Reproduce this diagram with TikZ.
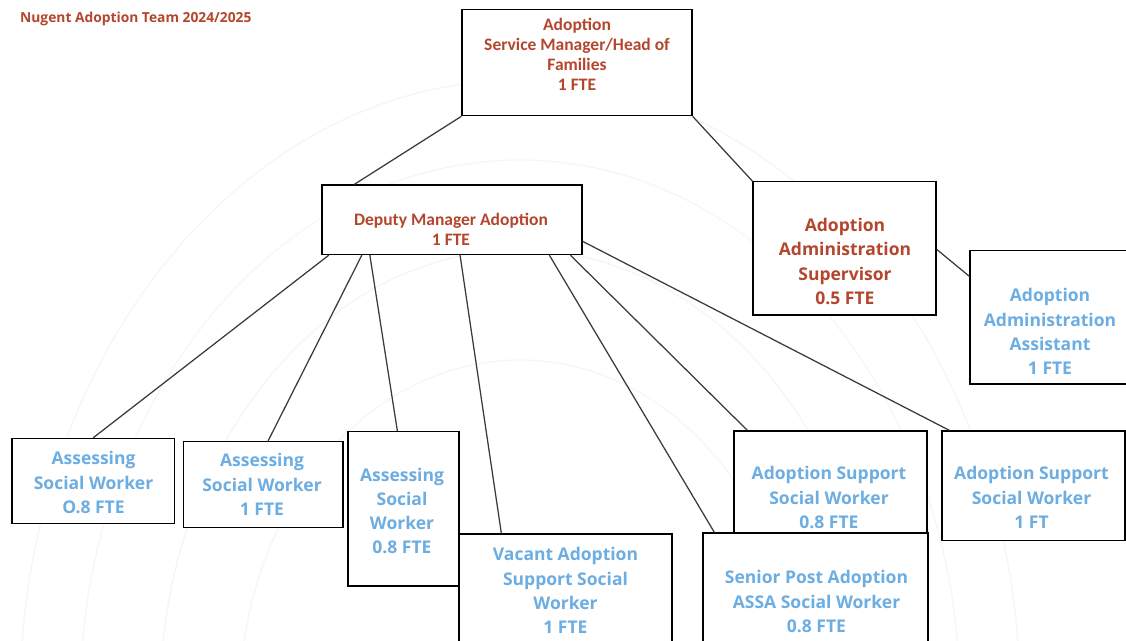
\documentclass[tikz,border=0pt]{standalone}
\usepackage{fontspec}
\setmainfont{Open Sans}
\newfontfamily\carl{Carlito}
\usetikzlibrary{calc}
\definecolor{redtxt}{HTML}{B4462D}
\definecolor{bluetxt}{HTML}{6CADE2}
\definecolor{linegray}{HTML}{3A3A3A}
\definecolor{ringa}{HTML}{F4F4FB}
\definecolor{ringb}{HTML}{FBF3F5}
\begin{document}
\begin{tikzpicture}[x=1pt,y=-1pt,
  box/.style={draw=black,line width=1.3pt,fill=white,inner sep=0pt,rectangle},
  conn/.style={draw=linegray,line width=1.25pt},
  redt/.style={text=redtxt,align=center,inner sep=0pt,font=\carl\bfseries\fontsize{17.5}{20}\selectfont},
  redo/.style={text=redtxt,align=center,inner sep=0pt,font=\bfseries\fontsize{17.5}{24.2}\selectfont},
  bluet/.style={text=bluetxt,align=center,inner sep=0pt,font=\bfseries\fontsize{17.5}{24.2}\selectfont},
  ring/.style={line width=1.2pt}]
\useasboundingbox (0,0) rectangle (1126,640);
\fill[white] (0,0) rectangle (1126,640);
\clip (0,0) rectangle (1126,640);
% faint watermark rings
\draw[ring,ringa] (520,700) ellipse [x radius=500, y radius=620];
\draw[ring,ringb] (520,700) ellipse [x radius=440, y radius=540];
\draw[ring,ringa] (520,700) ellipse [x radius=360, y radius=450];
\draw[ring,ringb] (520,700) ellipse [x radius=280, y radius=340];
% title
\node[anchor=base west,inner sep=0pt,text=redtxt,font=\bfseries\fontsize{13.8}{16}\selectfont] (title) at (20,22.5) {Nugent Adoption Team 2024/2025};
% upper boxes
\path
 node[box,minimum width=230pt,minimum height=106.4pt] (top) at (577,62.5) {}
 node[box,minimum width=260pt,minimum height=69.5pt] (dep) at (452,219.75) {}
 node[box,minimum width=183pt,minimum height=133.3pt] (sup) at (844.5,248.35) {}
 node[box,minimum width=160pt,minimum height=133.3pt] (asst) at (1050,317.35) {};
% connectors of the upper part
\draw[conn] (top.south west) -- ($(dep.north west)+(33,0)$);
\draw[conn] (top.south east) -- (sup.north west);
\draw[conn] ($(sup.north east)+(0,68.3)$) -- ($(asst.north west)+(0,26.3)$);
% lower boxes
\node[box,minimum width=162.5pt,minimum height=85.2pt] (asw1) at (93.25,481.1) {};
\node[box,minimum width=159.5pt,minimum height=85.9pt] (asw2) at (263.25,484.45) {};
\node[box,minimum width=111pt,minimum height=154.5pt] (asw3) at (403.5,508.75) {};
\node[box,minimum width=213pt,minimum height=126pt] (vac) at (565.5,597) {};
\node[box,minimum width=193pt,minimum height=104.7pt] (assw) at (830.5,483.35) {};
\node[box,minimum width=183pt,minimum height=109.7pt] (as1) at (1033.5,485.85) {};
\node[box,minimum width=225pt,minimum height=127pt] (sen) at (815.5,596.5) {};
\draw[conn] ($(dep.south west)+(7.5,0)$) -- ($(asw1.north west)+(81.75,0)$);
\draw[conn] ($(dep.south west)+(40.5,0)$) -- ($(asw2.north west)+(85.25,0)$);
\draw[conn] ($(dep.south west)+(48.5,0)$) -- ($(asw3.north west)+(50,0)$);
\draw[conn] ($(dep.south west)+(138.7,0)$) -- ($(vac.north west)+(43,0)$);
\draw[conn] ($(dep.south west)+(228,0)$) -- ($(sen.north west)+(12,0)$);
\draw[conn] ($(dep.south west)+(249,0)$) -- ($(assw.north west)+(14,0)$);
\draw[conn] ($(dep.north east)+(0,57)$) -- ($(as1.north west)+(8,0)$);
% texts
\node[redt] (ttop) at (577,54.5) {Adoption\\Service Manager/Head of\\Families\\1 FTE};
\node[redt] (tdep) at (451,229) {Deputy Manager Adoption\\1 FTE};
\node[redo] (tsup) at (845,261.5) {Adoption\\Administration\\Supervisor\\0.5 FTE};
\node[bluet] (tasst) at (1050,331.5) {Adoption\\Administration\\Assistant\\1 FTE};
\node[bluet] (tasw1) at (93.5,482.5) {Assessing\\Social Worker\\O.8 FTE};
\node[bluet] (tasw2) at (262,484.5) {Assessing\\Social Worker\\1 FTE};
\node[bluet] (tasw3) at (402,511) {Assessing\\Social\\Worker\\0.8 FTE};
\node[bluet] (tvac) at (565.5,590.5) {Vacant Adoption\\Support Social\\Worker\\1 FTE};
\node[bluet] (tassw) at (829,497.5) {Adoption Support\\Social Worker\\0.8 FTE};
\node[bluet] (tas1) at (1031.5,497.5) {Adoption Support\\Social Worker\\1 FT};
\node[bluet] (tsen) at (816.5,601.5) {Senior Post Adoption\\ASSA Social Worker\\0.8 FTE};
\end{tikzpicture}
\end{document}
